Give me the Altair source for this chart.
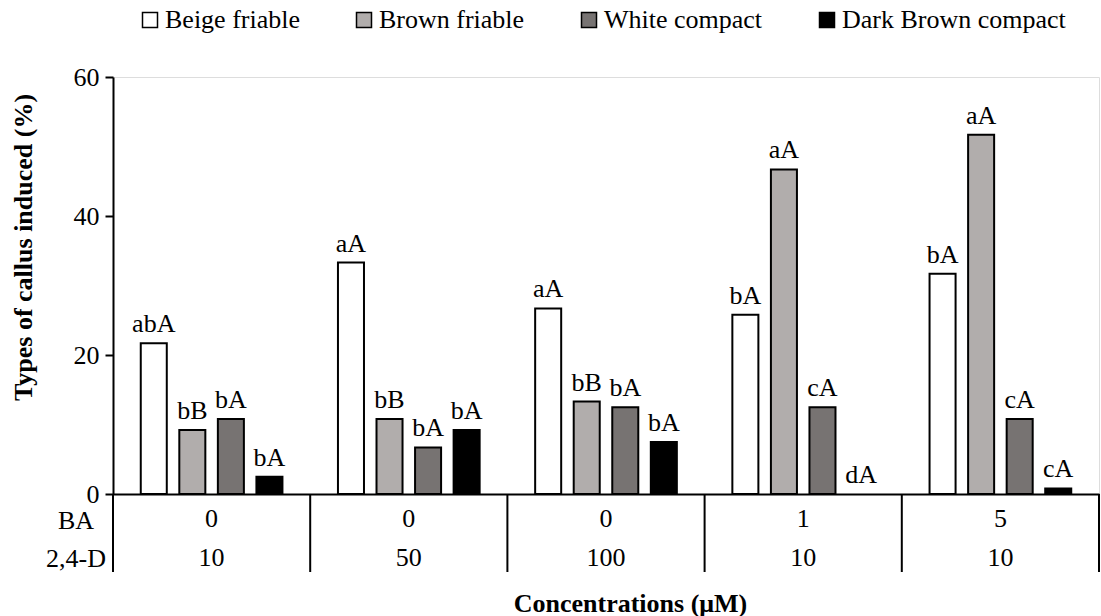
import altair as alt
import pandas as pd

treatments = ["T1", "T2", "T3", "T4", "T5"]
ba_vals = ["0", "0", "0", "1", "5"]
d_vals = ["10", "50", "100", "10", "10"]

series = ["Beige friable", "Brown friable", "White compact", "Dark Brown compact"]
colors = ["#FFFFFF", "#B1ADAC", "#777372", "#000000"]

beige = [21.7, 33.3, 26.7, 25.8, 31.7]
brown = [9.2, 10.8, 13.3, 46.7, 51.7]
white = [10.8, 6.7, 12.5, 12.5, 10.8]
dark = [2.5, 9.2, 7.5, 0.0, 0.8]

beige_l = ["abA", "aA", "aA", "bA", "bA"]
brown_l = ["bB", "bB", "bB", "aA", "aA"]
white_l = ["bA", "bA", "bA", "cA", "cA"]
dark_l = ["bA", "bA", "bA", "dA", "cA"]

rows = []
for s, vals, labs in zip(series, [beige, brown, white, dark], [beige_l, brown_l, white_l, dark_l]):
    for t, v, l in zip(treatments, vals, labs):
        rows.append({"treat": t, "series": s, "value": v, "letter": l})
df = pd.DataFrame(rows)
tab = pd.DataFrame({"treat": treatments, "BA": ba_vals, "D": d_vals})

W, H = 986, 417
FONT = "Liberation Serif"

xscale = alt.Scale(domain=treatments, paddingInner=0, paddingOuter=0)
xoff = alt.XOffset("series:N", sort=series,
                   scale=alt.Scale(domain=series, paddingInner=0.325, paddingOuter=0.72))

x_enc = alt.X("treat:N", sort=treatments, scale=xscale,
              axis=alt.Axis(labels=False, ticks=False, domain=True, domainColor="black",
                            domainWidth=2, title="Concentrations (μM)", titleFont=FONT,
                            titleFontSize=26, titleFontWeight="bold", titleColor="black",
                            titleX=517, titleY=109, titleBaseline="middle", titleAlign="center"))

y_enc = alt.Y("value:Q", scale=alt.Scale(domain=[0, 60], nice=False),
              axis=alt.Axis(values=[0, 20, 40, 60], tickSize=8, tickWidth=2, tickColor="black",
                            domainColor="black", domainWidth=2, grid=False,
                            labelFont=FONT, labelFontSize=26, labelColor="black", labelPadding=6,
                            title="Types of callus induced (%)", titleFont=FONT, titleFontSize=26,
                            titleFontWeight="bold", titleColor="black", titleAngle=270,
                            titleX=-90, titleY=170, titleAlign="center", titleBaseline="middle"))

color_enc = alt.Color("series:N", sort=series, scale=alt.Scale(domain=series, range=colors),
                      legend=alt.Legend(title=None, orient="none", direction="horizontal",
                                        legendX=24, legendY=-70, columns=4,
                                        symbolType="square", symbolSize=225,
                                        symbolStrokeColor="black", symbolStrokeWidth=1.5,
                                        symbolOpacity=1, labelLimit=0,
                                        labelFont=FONT, labelFontSize=26, labelColor="black",
                                        labelOffset=2, columnPadding=51))

bars = alt.Chart(df).transform_filter(alt.datum.value > 0).mark_bar(
    stroke="black", strokeWidth=2).encode(
    x=x_enc, xOffset=xoff, y=y_enc, color=color_enc)

labels = alt.Chart(df).mark_text(font=FONT, fontSize=26, color="black", baseline="bottom", dy=-6).encode(
    x=alt.X("treat:N", sort=treatments, scale=xscale), xOffset=xoff,
    y=alt.Y("value:Q"), text="letter:N")

div_left = alt.Chart(tab).mark_rule(color="black", strokeWidth=2).encode(
    x=alt.X("treat:N", sort=treatments, scale=xscale, bandPosition=0),
    y=alt.value(H), y2=alt.value(H + 78))
div_right = alt.Chart(tab).transform_filter(alt.datum.treat == treatments[-1]).mark_rule(
    color="black", strokeWidth=2).encode(
    x=alt.X("treat:N", sort=treatments, scale=xscale, bandPosition=1),
    y=alt.value(H), y2=alt.value(H + 78))

ba_text = alt.Chart(tab).mark_text(font=FONT, fontSize=26, color="black", baseline="middle").encode(
    x=alt.X("treat:N", sort=treatments, scale=xscale), y=alt.value(H + 25), text="BA:N")
d_text = alt.Chart(tab).mark_text(font=FONT, fontSize=26, color="black", baseline="middle").encode(
    x=alt.X("treat:N", sort=treatments, scale=xscale), y=alt.value(H + 64), text="D:N")

row_lab = pd.DataFrame({"lab": ["BA", "2,4-D"], "yy": [H + 27, H + 65]})
row_text = alt.Chart(row_lab).mark_text(font=FONT, fontSize=26, color="black", baseline="middle",
                                        align="center").encode(
    x=alt.value(-37), y=alt.Y("yy:Q", scale=None), text="lab:N")

chart = alt.layer(bars, labels, div_left, div_right, ba_text, d_text, row_text).properties(
    width=W, height=H,
    autosize=alt.AutoSizeParams(type="none"),
    padding={"left": 113, "top": 77, "right": 2, "bottom": 122},
).configure_view(stroke=None).configure(font=FONT, background="white")

chart.save("out.html", embed_options={"renderer": "svg", "actions": False})
